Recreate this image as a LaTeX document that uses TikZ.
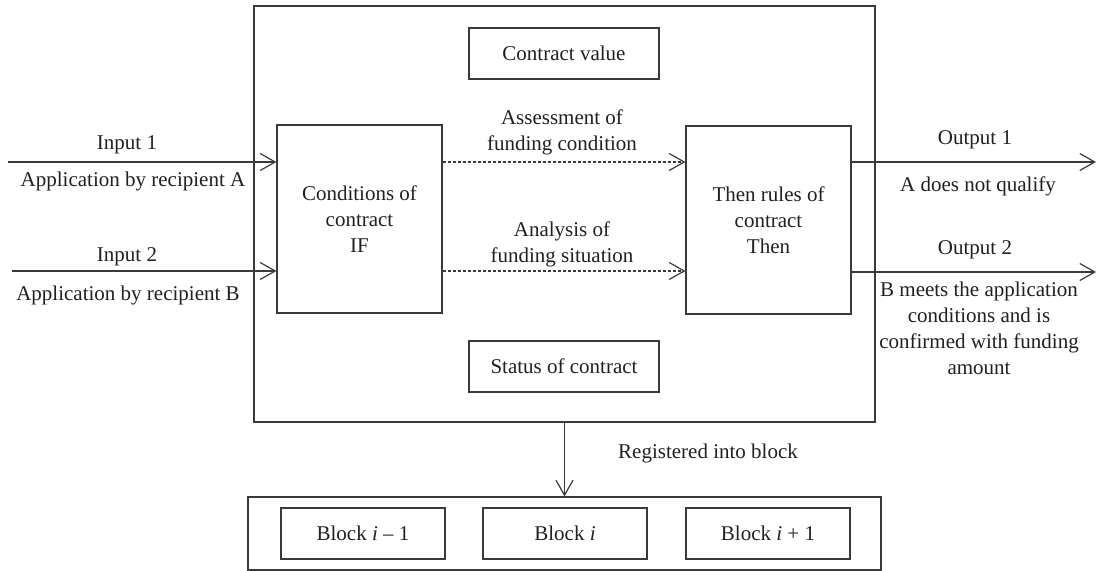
\documentclass[tikz,border=0pt]{standalone}
\usepackage{fontspec}
\setmainfont{Liberation Serif}
\usepackage{tikz}
\usetikzlibrary{arrows.meta,positioning,calc}
\definecolor{linegray}{HTML}{3A3A3A}
\definecolor{textgray}{HTML}{231F20}
\tikzset{
  box/.style={draw=linegray,line width=0.6pt,inner sep=0pt,align=center,
    text=textgray,font=\fontsize{10.5}{13}\selectfont},
  label/.style={inner sep=0pt,align=center,text=textgray,
    font=\fontsize{10.5}{13}\selectfont},
  flowarrow/.style={-{Straight Barb[length=7.5pt,width=8.5pt,line width=0.6pt]},
    line width=0.6pt,draw=linegray},
  dasharrow/.style={flowarrow,dash pattern=on 1.5pt off 1pt}
}
\begin{document}
\begin{tikzpicture}[x=0.5pt,y=-0.5pt]
\useasboundingbox (0,0) rectangle (1098,571);
\node[box,minimum width=310.5pt,minimum height=208pt] (contract) at (564.5,214) {};
\node[box,minimum width=95pt,minimum height=25.5pt] (cvalue) at (564,53.5) {Contract value};
\node[box,minimum width=95pt,minimum height=25.5pt] (status) at (564,366.5) {Status of contract};
\node[box,minimum width=82.5pt,minimum height=94pt] (cond) at (359.5,219) {Conditions of\\contract\\IF};
\node[box,minimum width=82.5pt,minimum height=94pt] (rules) at (768.5,220) {Then rules of\\contract\\Then};
\node[box,minimum width=316.5pt,minimum height=36.5pt] (chain) at (564.5,533.5) {};
\node[box,minimum width=82pt,minimum height=25.5pt] (prev) at (363,533.5) {Block \textit{i} – 1};
\node[box,minimum width=82pt,minimum height=25.5pt] (curr) at (565,533.5) {Block \textit{i}};
\node[box,minimum width=82pt,minimum height=25.5pt] (next) at (768,533.5) {Block \textit{i} + 1};
\coordinate (in1) at (8,162);
\coordinate (in2) at (12,271);
\coordinate (out1) at (1096,162);
\coordinate (out2) at (1096,272);
\draw[flowarrow] (in1) -- (in1 -| cond.west);
\draw[flowarrow] (in2) -- (in2 -| cond.west);
\draw[dasharrow] (cond.east |- in1) -- (rules.west |- in1);
\draw[dasharrow] (cond.east |- in2) -- (rules.west |- in2);
\draw[flowarrow] (rules.east |- out1) -- (out1);
\draw[flowarrow] (rules.east |- out2) -- (out2);
\draw[flowarrow] (contract.south) -- (chain.north);
\node[label] (in1top) at (127,145) {Input 1};
\node[label] (in1bot) at (133,181) {Application by recipient A};
\node[label] (in2top) at (127,257) {Input 2};
\node[label] (in2bot) at (128,295) {Application by recipient B};
\node[label] (assess) at (562,132) {Assessment of\\funding condition};
\node[label] (analysis) at (562,244) {Analysis of\\funding situation};
\node[label] (out1top) at (975,140) {Output 1};
\node[label] (out1bot) at (978,186) {A does not qualify};
\node[label] (out2top) at (975,250) {Output 2};
\node[label] (out2bot) at (979,328) {B meets the application\\conditions and is\\confirmed with funding\\amount};
\node[label] (register) at (708,453) {Registered into block};
\end{tikzpicture}
\end{document}
